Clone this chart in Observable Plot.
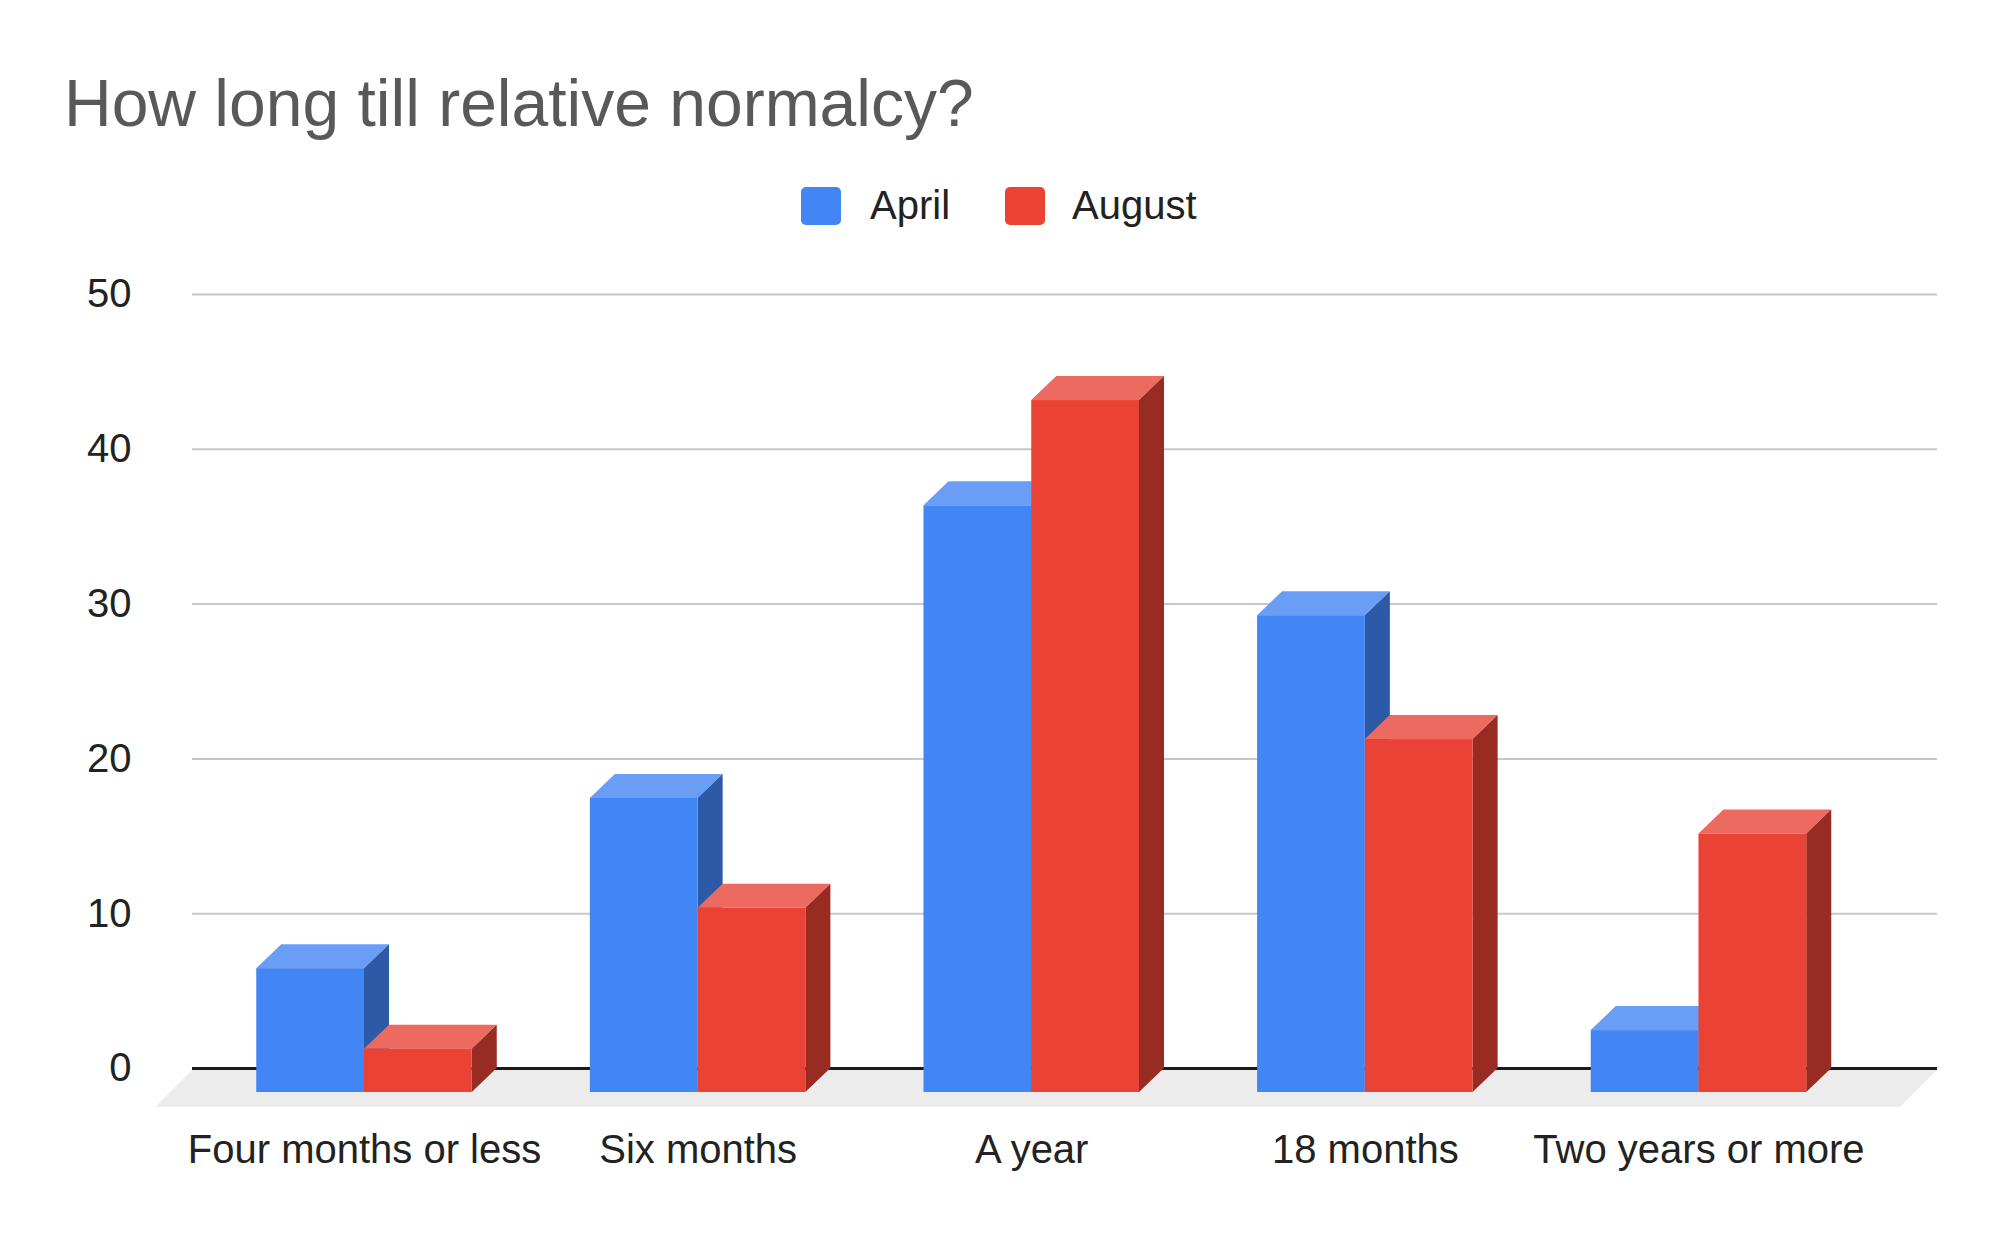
<!DOCTYPE html>
<html>
<head>
<meta charset="utf-8">
<script src="https://cdn.jsdelivr.net/npm/d3@7"></script>
<script src="https://cdn.jsdelivr.net/npm/@observablehq/plot@0.6"></script>
<style>
  body { margin: 0; background: #fff; font-family: "Liberation Sans", Arial, sans-serif; }
  #wrap { width: 2000px; }
  #head { position: relative; height: 260px; }
  #title { position: absolute; left: 64px; top: 70px; font-size: 66px; line-height: 66px; color: #595959; white-space: nowrap; }
  .sw { position: absolute; top: 187px; width: 40px; height: 38px; border-radius: 5px; }
  .lt { position: absolute; top: 185px; font-size: 40px; line-height: 40px; color: #222; white-space: nowrap; }
</style>
</head>
<body>
<div id="wrap">
  <div id="head">
    <div id="title">How long till relative normalcy?</div>
  </div>
  <div id="chart"></div>
</div>
<script>
// ---- data ----
const categories = ["Four months or less", "Six months", "A year", "18 months", "Two years or more"];
const seriesNames = ["April", "August"];
const april = [8.0, 19.0, 37.9, 30.8, 4.0];
const august = [2.8, 11.9, 44.7, 22.8, 16.7];
const yTicks = [0, 10, 20, 30, 40, 50];

// ---- styling ----
const frontColors = ["#4285f4", "#ea4335"];
const topColors = ["#6a9ef6", "#ec6a5f"];
const sideColors = ["#2d5aa6", "#982b22"];
const DX = 25, DY = 24;     // 3D depth offset in pixels
const BW = 0.323;           // bar width in x units

// legend
const head = document.getElementById("head");
const legendPos = [{box: 801, text: 870}, {box: 1005, text: 1072}];
seriesNames.forEach((s, k) => {
  const b = document.createElement("div");
  b.className = "sw"; b.style.left = legendPos[k].box + "px"; b.style.background = frontColors[k];
  head.appendChild(b);
  const t = document.createElement("div");
  t.className = "lt"; t.style.left = legendPos[k].text + "px"; t.textContent = s;
  head.appendChild(t);
});

// table for the library
const values = [april, august];
const rows = [];
seriesNames.forEach((s, k) => {
  categories.forEach((c, i) => {
    rows.push({i, cat: c, series: s, k, value: values[k][i], x1: i - BW + k * BW, x2: i + k * BW});
  });
});

function faces(k) {
  return (index, scales) => {
    const g = d3.create("svg:g");
    for (const d of rows.filter(r => r.k === k)) {
      const xa = scales.x(d.x1), xb = scales.x(d.x2);
      const yv = scales.y(d.value), y0 = scales.y(0);
      g.append("path")
        .attr("d", `M${xa},${yv}L${xb},${yv}L${xb - DX},${yv + DY}L${xa - DX},${yv + DY}Z`)
        .attr("fill", topColors[k]);
      g.append("path")
        .attr("d", `M${xb},${yv}L${xb},${y0}L${xb - DX},${y0 + DY}L${xb - DX},${yv + DY}Z`)
        .attr("fill", sideColors[k]);
    }
    return g.node();
  };
}

function floor(index, scales, vals, dim) {
  const xl = dim.marginLeft, xr = dim.width - dim.marginRight;
  const y0 = scales.y(0);
  const g = d3.create("svg:g");
  g.append("path")
    .attr("d", `M${xl},${y0 + 2}L${xr},${y0 + 2}L${xr - 37},${y0 + 39}L${xl - 37},${y0 + 39}Z`)
    .attr("fill", "#ececec");
  return g.node();
}

const marks = [
  Plot.gridY(yTicks.filter(t => t > 0), {stroke: "#c8c8c8", strokeOpacity: 1, strokeWidth: 2}),
  floor,
  Plot.ruleY([0], {stroke: "#1a1a1a", strokeWidth: 3}),
];
[0, 1].forEach(k => {
  marks.push(faces(k));
  marks.push(Plot.rect(rows.filter(r => r.k === k), {
    x1: "x1", x2: "x2", y1: 0, y2: "value", fill: frontColors[k], dx: -DX, dy: DY
  }));
});
marks.push(Plot.axisY(yTicks, {tickSize: 0, tickPadding: 61, fontSize: 40}));
marks.push(Plot.axisX(categories.map((c, i) => i), {
  tickSize: 0, tickPadding: 66, fontSize: 40, dx: -DX, tickFormat: i => categories[i]
}));

const chart = Plot.plot({
  width: 2000,
  height: 977,
  marginLeft: 192,
  marginRight: 63,
  marginTop: 34,
  marginBottom: 169,
  style: {fontFamily: '"Liberation Sans", Arial, sans-serif', color: "#222", background: "#fff", overflow: "visible"},
  x: {type: "linear", domain: [-0.5905, 4.640], label: null},
  y: {domain: [0, 50], label: null},
  marks
});
document.getElementById("chart").appendChild(chart);
</script>
</body>
</html>
